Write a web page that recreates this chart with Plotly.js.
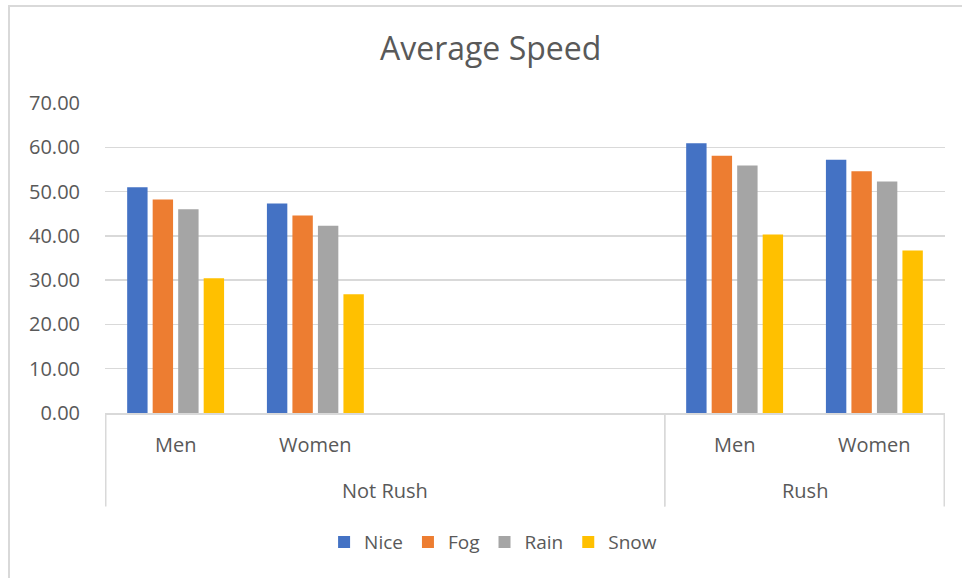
<!DOCTYPE html>
<html>
<head>
<meta charset="utf-8">
<script src="https://cdn.plot.ly/plotly-3.0.1.min.js"></script>
<style>
  html, body { margin: 0; padding: 0; background: #ffffff; }
  #chart { width: 962px; height: 578px; position: absolute; left: 0; top: 0; }
  #frame { position: absolute; left: 8px; top: 5px; width: 1000px; height: 600px;
           border-left: 2px solid #d9d9d9; border-top: 2px solid #d9d9d9;
           pointer-events: none; z-index: 5; }
</style>
</head>
<body>
<div id="chart"></div>
<div id="frame"></div>
<script>
// Data
const groups    = ["Not Rush", "Not Rush", "Not Rush", "Not Rush", "Rush", "Rush"];
const subgroups = ["Men", "Women", "", "", "Men", "Women"];
const seriesNames = ["Nice", "Fog", "Rain", "Snow"];
const nice = [50.95, 47.3, null, null, 60.9, 57.2];
const fog  = [48.2, 44.6, null, null, 58.1, 54.6];
const rain = [46.0, 42.3, null, null, 55.9, 52.3];
const snow = [30.4, 26.8, null, null, 40.3, 36.7];
const yTicks = [0, 10, 20, 30, 40, 50, 60, 70];

const colors = ["#4472C4", "#ED7D31", "#A5A5A5", "#FFC000"];
const values = [nice, fog, rain, snow];

const textColor = "#595959";
const lineColor = "#d9d9d9";
const fontFam = "'Open Sans', 'DejaVu Sans', sans-serif";

// unique category keys (group + position) so that blank slots stay distinct
const keys = groups.map((g, i) => g + "|" + i);

const traces = values.map((v, i) => ({
  type: "bar",
  name: seriesNames[i],
  x: keys,
  y: v,
  marker: { color: colors[i], line: { width: 0 } },
  hoverinfo: "skip"
}));

// category labels (first level) and group labels (second level)
const annotations = [];
const shapes = [];
subgroups.forEach((s, i) => {
  if (s.trim() === "") return;
  annotations.push({
    x: keys[i], xref: "x", y: -0.1, yref: "paper",
    text: s, showarrow: false, xanchor: "center", yanchor: "middle",
    font: { family: fontFam, size: 20, color: textColor }
  });
});
const uniqueGroups = [...new Set(groups)];
uniqueGroups.forEach(g => {
  const first = groups.indexOf(g);
  const last = groups.lastIndexOf(g);
  annotations.push({
    x: (first + last) / 2, xref: "x", y: -0.249, yref: "paper",
    text: g, showarrow: false, xanchor: "center", yanchor: "middle",
    font: { family: fontFam, size: 20, color: textColor }
  });
  [first - 0.5, last + 0.5].forEach(b => {
    shapes.push({
      type: "line", xref: "x", yref: "paper",
      x0: b, x1: b, y0: 0, y1: -0.302,
      line: { color: lineColor, width: 1.5 }
    });
  });
});

const layout = {
  width: 962,
  height: 578,
  paper_bgcolor: "#ffffff",
  plot_bgcolor: "#ffffff",
  margin: { l: 105, r: 17, t: 103, b: 165, pad: 0 },
  title: {
    text: "Average Speed",
    font: { family: fontFam, size: 32, color: textColor },
    x: 0.51, xanchor: "center",
    y: 0.915, yanchor: "middle"
  },
  barmode: "group",
  bargap: 0.27,
  bargroupgap: 0.2,
  showlegend: true,
  legend: {
    orientation: "h",
    x: 0.462, xanchor: "center",
    y: 0.062, yanchor: "middle",
    yref: "container",
    font: { family: fontFam, size: 19, color: textColor },
    itemwidth: 30,
    traceorder: "normal"
  },
  annotations: annotations,
  shapes: shapes,
  xaxis: {
    type: "category",
    showticklabels: false,
    showline: true,
    linecolor: lineColor,
    linewidth: 1.5,
    showgrid: false,
    ticks: "",
    fixedrange: true
  },
  yaxis: {
    range: [0, 70],
    tickvals: yTicks,
    tickformat: ".2f",
    showgrid: true,
    gridcolor: lineColor,
    gridwidth: 1.5,
    zeroline: false,
    showline: false,
    ticks: "",
    ticklabelstandoff: 24,
    tickfont: { family: fontFam, size: 20, color: textColor },
    fixedrange: true
  }
};

Plotly.newPlot("chart", traces, layout, { displayModeBar: false, staticPlot: true });
</script>
</body>
</html>
